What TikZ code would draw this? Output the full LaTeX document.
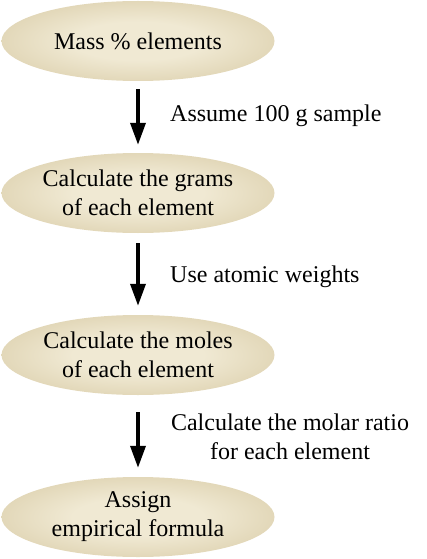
\documentclass[tikz,border=0pt]{standalone}
\usepackage{fontspec}
\setmainfont{Liberation Serif}
\usetikzlibrary{shapes.geometric, arrows.meta, positioning}

\definecolor{stepin}{HTML}{F0E9D3}
\definecolor{stepmid}{HTML}{DDD1AF}
\definecolor{stepout}{HTML}{CAB98F}
\pgfdeclareradialshading{stepglow}{\pgfpoint{0bp}{0bp}}{%
  color(0bp)=(stepin); color(12bp)=(stepin); color(30bp)=(stepmid); color(46bp)=(stepout); color(50bp)=(stepout)}

\begin{document}
\begin{tikzpicture}[
    x=1pt, y=-1pt,
    stepbox/.style={ellipse, shading=stepglow, minimum width=273pt, minimum height=80pt,
      inner sep=0pt, align=center, font=\fontsize{24}{29}\selectfont},
    note/.style={align=center, font=\fontsize{24}{29}\selectfont, inner sep=0pt},
    arrow/.style={-{Triangle[length=22pt, width=15pt]}, line width=3.5pt}
]
    \useasboundingbox (0,0) rectangle (427,559);

    % Steps
    \node[stepbox] (mass) at (138, 41) {Mass \% elements};
    \node[stepbox] (grams) at (138, 193) {Calculate the grams\\of each element};
    \node[stepbox] (moles) at (138, 355) {Calculate the moles\\of each element};
    \node[stepbox] (formula) at (138, 517) {Assign\\empirical formula};

    \draw[arrow] ([yshift=-8pt]mass.south) -- ([yshift=8pt]grams.north);
    \draw[arrow] ([yshift=-10pt]grams.south) -- ([yshift=9pt]moles.north);
    \draw[arrow] ([yshift=-17pt]moles.south) -- ([yshift=9pt]formula.north);

    % Notes
    \node[note, anchor=west] (sample) at (170, 116) {Assume 100 g sample};
    \node[note, anchor=west] (weights) at (170, 277) {Use atomic weights};
    \node[note] (ratio) at (290, 437) {Calculate the molar ratio\\for each element};
\end{tikzpicture}
\end{document}
